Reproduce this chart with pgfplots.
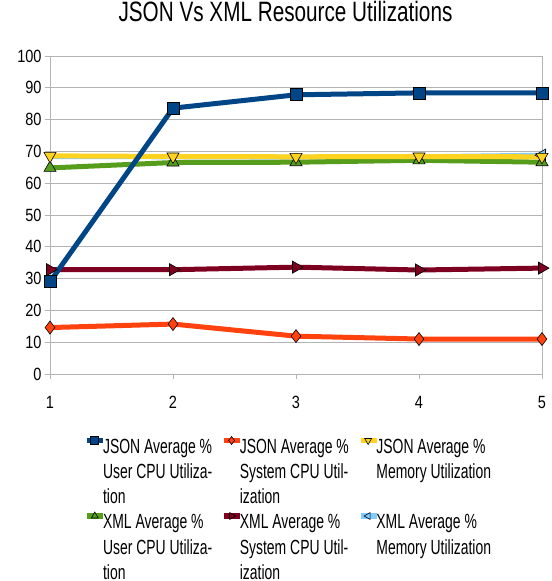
\documentclass[border=0pt]{standalone}
\usepackage{fontspec}
\setmainfont{Liberation Sans}
\newfontfamily\titlefont[FakeStretch=0.74]{Liberation Sans}
\newfontfamily\tickfont[FakeStretch=0.82]{Liberation Sans}
\newfontfamily\legfont[FakeStretch=0.68]{Liberation Sans}
\usepackage{pgfplots}
\pgfplotsset{compat=1.18}
\definecolor{cA}{HTML}{004586}
\definecolor{cB}{HTML}{FF420E}
\definecolor{cC}{HTML}{FFD320}
\definecolor{cD}{HTML}{579D1C}
\definecolor{cE}{HTML}{7E0021}
\definecolor{cF}{HTML}{83CAFF}
\definecolor{axgray}{HTML}{B3B3B3}
\pgfplotsset{
  sJU/.style={color=cA, line width=5bp, mark=square*, mark size=6bp, mark options={fill=cA, draw=black, line width=0.6bp, solid}},
  sJS/.style={color=cB, line width=5bp, mark=diamond*, mark size=6.5bp, mark options={fill=cB, draw=black, line width=0.6bp, solid}},
  sJM/.style={color=cC, line width=5bp, mark=triangle*, mark size=7bp, mark options={fill=cC, draw=black, line width=0.6bp, rotate=180, solid}},
  sXU/.style={color=cD, line width=5bp, mark=triangle*, mark size=7bp, mark options={fill=cD, draw=black, line width=0.6bp, solid}},
  sXS/.style={color=cE, line width=5bp, mark=triangle*, mark size=7bp, mark options={fill=cE, draw=black, line width=0.6bp, rotate=-90, solid}},
  sXM/.style={color=cF, line width=5bp, mark=triangle*, mark size=7bp, mark options={fill=cF, draw=black, line width=0.6bp, rotate=90, solid}},
}
\newcommand\strA{\rule[-4.5bp]{0pt}{24.2bp}}
\newcommand\strB{\rule[-11.9bp]{0pt}{31.6bp}}
\newcommand\strC{\rule{0pt}{19.7bp}}
\begin{document}
\begin{tikzpicture}
\begin{axis}[
  at={(50bp,207bp)}, anchor=south west,
  scale only axis, width=492bp, height=318bp,
  xmin=1, xmax=5, ymin=0, ymax=100,
  xtick={1,2,3,4,5}, ytick={0,10,...,100},
  ymajorgrids, grid style={color=axgray, line width=0.9bp},
  axis line style={draw=axgray, line width=0.9bp},
  tick align=outside, major tick length=5bp,
  tick style={color=axgray, line width=0.9bp},
  xtick pos=left, ytick pos=left,
  tick label style={font=\tickfont\fontsize{17.7bp}{20bp}\selectfont},
  /pgf/number format/assume math mode=true,
  xticklabel style={yshift=-14bp},
  title={JSON Vs XML Resource Utilizations},
  title style={at={(axis description cs:0.4786,1)}, anchor=base, yshift=28.7bp, inner sep=0pt, font=\titlefont\fontsize{28bp}{30bp}\selectfont},
  legend columns=3,
  legend style={at={(axis description cs:0.0697,-0.1805)}, anchor=north west, draw=none, inner sep=0pt,
     font=\legfont\fontsize{20.5bp}{24bp}\selectfont, cells={anchor=base west, inner xsep=0.5bp, inner ysep=0pt}, row sep=0pt, column sep=-5bp,
     /tikz/every even column/.append style={column sep=7bp}},
  legend image code/.code={%
     \draw[#1, line width=5.6bp, mark size=4bp, mark repeat=2, mark phase=2] plot coordinates {(0bp,12.8bp) (7.5bp,12.8bp) (16bp,12.8bp)};},
]
\addlegendimage{sJU}
\addlegendentry{\strA JSON Average \%}
\addlegendimage{sJS}
\addlegendentry{\strA JSON Average \%}
\addlegendimage{sJM}
\addlegendentry{\strA JSON Average \%}
\addlegendimage{empty legend}
\addlegendentry{\strA User CPU Utiliza-}
\addlegendimage{empty legend}
\addlegendentry{\strA System CPU Util-}
\addlegendimage{empty legend}
\addlegendentry{\strA Memory Utilization}
\addlegendimage{empty legend}
\addlegendentry{\strB tion}
\addlegendimage{empty legend}
\addlegendentry{\strB ization}
\addlegendimage{empty legend}
\addlegendentry{\strB}
\addlegendimage{sXU}
\addlegendentry{\strA XML Average \%}
\addlegendimage{sXS}
\addlegendentry{\strA XML Average \%}
\addlegendimage{sXM}
\addlegendentry{\strA XML Average \%}
\addlegendimage{empty legend}
\addlegendentry{\strA User CPU Utiliza-}
\addlegendimage{empty legend}
\addlegendentry{\strA System CPU Util-}
\addlegendimage{empty legend}
\addlegendentry{\strA Memory Utilization}
\addlegendimage{empty legend}
\addlegendentry{\strC tion}
\addlegendimage{empty legend}
\addlegendentry{\strC ization}
\addlegendimage{empty legend}
\addlegendentry{\strC}

\addplot[sXM, mark indices={5}, forget plot] coordinates {(1,68.4) (2,68.3) (3,68.2) (4,68.3) (5,68.8)};
\addplot[sXU, forget plot] coordinates {(1,64.8) (2,66.5) (3,66.6) (4,67.2) (5,66.6)};
\addplot[sJM, forget plot] coordinates {(1,68.6) (2,68.4) (3,68.3) (4,68.4) (5,68.3)};
\addplot[sXS, forget plot] coordinates {(1,32.8) (2,32.8) (3,33.6) (4,32.7) (5,33.3)};
\addplot[sJS, forget plot] coordinates {(1,14.6) (2,15.7) (3,11.9) (4,11.0) (5,11.0)};
\addplot[sJU, forget plot] coordinates {(1,29.0) (2,83.6) (3,87.8) (4,88.4) (5,88.4)};
\end{axis}
\pgfresetboundingbox
\useasboundingbox (0,0) rectangle (552bp,581bp);
\end{tikzpicture}
\end{document}
